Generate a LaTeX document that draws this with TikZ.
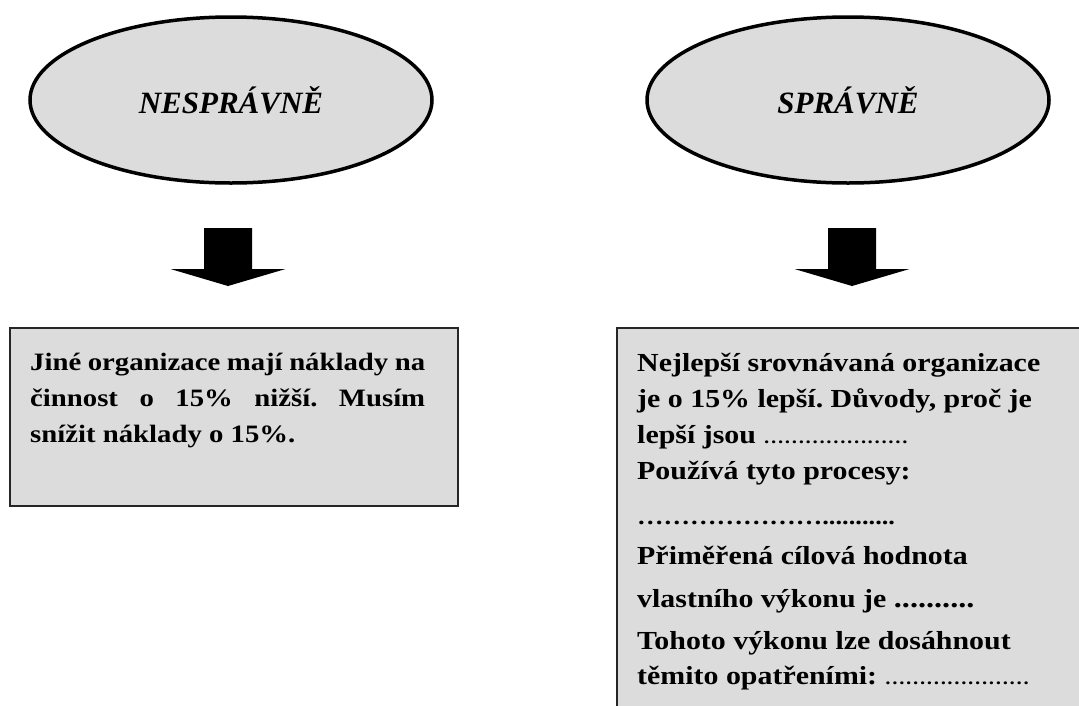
\documentclass[tikz,border=0pt]{standalone}
\usepackage{fontspec}
\setmainfont{Liberation Serif}
\newfontfamily\boxfont{Liberation Serif}[FakeStretch=1.15]
\usetikzlibrary{shapes.geometric,calc}

\definecolor{panelgray}{HTML}{DCDCDC}

\tikzset{
  oval/.style={ellipse, draw=black, line width=3.5pt, fill=panelgray,
    minimum width=402pt, minimum height=166pt, inner sep=0pt,
    font=\fontsize{31}{36}\selectfont\bfseries\itshape},
  panel/.style={draw=black!85, line width=2pt, fill=panelgray,
    anchor=north west, inner sep=0pt},
  paneltext/.style={anchor=north west, inner sep=0pt,
    font=\boxfont\fontsize{26}{36}\selectfont\bfseries\frenchspacing},
  bigarrow/.style={fill=black},
}
\newcommand{\thindots}[1]{{\fontsize{18}{18}\selectfont\bfseries #1}}

\begin{document}
\begin{tikzpicture}[x=1pt,y=-1pt]
  \useasboundingbox (0,0) rectangle (1079,705);
  \clip (0,0) rectangle (1079,705);

  % headline ovals
  \node[oval] (wrong) at (231,100) {NESPRÁVNĚ};
  \node[oval] (right) at (848,100) {SPRÁVNĚ};

  % panels
  \node[panel, minimum width=448pt, minimum height=178pt] (lbox) at (9,327) {};
  \node[panel, minimum width=500pt, minimum height=420pt] (rbox) at (616,327) {};

  % block arrows from ovals down to panels
  \coordinate (la) at (228,228);
  \coordinate (ra) at (852,228);
  \foreach \a in {la,ra}{
    \fill[bigarrow] (\a) ++(-24,0) -- ++(0,41) -- ++(-33.5,0) -- ++(57.5,17)
      -- ++(57.5,-17) -- ++(-33.5,0) -- ++(0,-41) -- cycle;
  }

  % panel texts
  \node[paneltext, text width=395pt, align=justify,
        font=\boxfont\fontsize{25}{36}\selectfont\bfseries\frenchspacing]
        (ltext) at (30,353)
    {Jiné organizace mají náklady na\linebreak
     činnost o 15\% nižší. Musím\linebreak
     snížit náklady o 15\%.};

  \node[paneltext, align=left] (rtext) at (637,353)
    {Nejlepší srovnávaná organizace\\
     je o 15\% lepší. Důvody, proč je\\
     lepší jsou \thindots{…………………}\\
     Používá tyto procesy:\\[9pt]
     {\fontsize{23}{23}\selectfont …………………...........}\\[4pt]
     Přiměřená cílová hodnota\\[7pt]
     vlastního výkonu je {\fontsize{28}{28}\selectfont ..........}\\[6pt]
     Tohoto výkonu lze dosáhnout\\[-1pt]
     těmito opatřeními: \thindots{…………………}};
\end{tikzpicture}
\end{document}
